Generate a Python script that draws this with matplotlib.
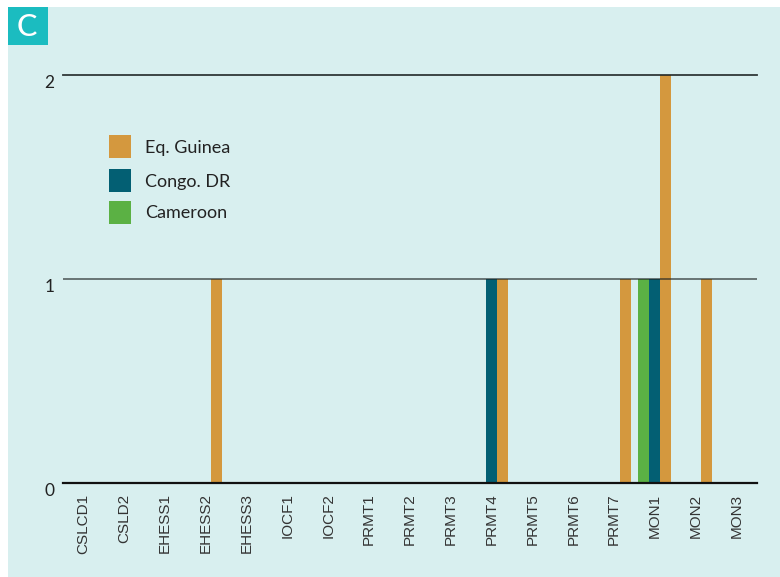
import matplotlib
matplotlib.use("Agg")
import matplotlib.pyplot as plt
from matplotlib.patches import Rectangle
import numpy as np

# Categories and counts per country
categories = ["CSLCD1", "CSLD2", "EHESS1", "EHESS2", "EHESS3", "IOCF1", "IOCF2",
              "PRMT1", "PRMT2", "PRMT3", "PRMT4", "PRMT5", "PRMT6", "PRMT7",
              "MON1", "MON2", "MON3"]
cameroon = [0, 0, 0, 0, 0, 0, 0, 0, 0, 0, 0, 0, 0, 0, 1, 0, 0]
congo_dr = [0, 0, 0, 0, 0, 0, 0, 0, 0, 0, 1, 0, 0, 0, 1, 0, 0]
eq_guinea = [0, 0, 0, 1, 0, 0, 0, 0, 0, 0, 1, 0, 0, 1, 2, 1, 0]
y_ticks = [0, 1, 2]

series = [
    ("Eq. Guinea", eq_guinea, "#D4983E", 1),
    ("Congo. DR", congo_dr, "#035F73", 0),
    ("Cameroon", cameroon, "#5BB144", -1),
]

W, H = 780, 577
bg = "#D8EFEF"
fig = plt.figure(figsize=(W / 100, H / 100), dpi=100, facecolor="white")

# panel background (white strip at top and left)
fig.patches.append(Rectangle((8 / W, 0), 1 - 8 / W, 1 - 7 / H,
                             transform=fig.transFigure, facecolor=bg,
                             edgecolor="none", zorder=-10))
# panel letter badge
fig.patches.append(Rectangle((8 / W, 1 - 45 / H), 40 / W, 38 / H,
                             transform=fig.transFigure, facecolor="#1BBCC0",
                             edgecolor="none", zorder=1))
fig.text(27 / W, 1 - 26.5 / H, "C", color="white", fontsize=22, family="Lato",
         fontweight="medium", ha="center", va="center", zorder=2)

ax = fig.add_axes([63 / W, 1 - 483 / H, (757 - 63) / W, (483 - 75) / H])
ax.set_facecolor("none")
x = np.arange(len(categories))
bw = 0.27
for name, vals, color, off in series:
    ax.bar(x + off * bw, vals, width=bw, color=color, edgecolor="none",
           zorder=2)

ax.set_xlim(-0.5, len(categories) - 0.5)
ax.set_ylim(0, 2)
for s in ax.spines.values():
    s.set_visible(False)

# horizontal reference lines drawn over the bars
ax.axhline(1, color="#1e2324", lw=1.3, alpha=0.65, zorder=3)
ax.axhline(2, color="#1e2324", lw=1.3, alpha=0.9, zorder=3, clip_on=False)
ax.axhline(0, color="#111111", lw=1.6, zorder=3, clip_on=False)

ax.set_yticks(y_ticks)
ax.set_yticklabels([str(t) for t in y_ticks], family="Lato", fontsize=12.5,
                   color="#222222", va="top")
ax.tick_params(axis="y", length=0, pad=6)

ax.set_xticks(x)
ax.set_xticklabels(categories, rotation=90, family="Liberation Sans",
                   fontsize=11, color="#333333", ha="center", va="top")
ax.tick_params(axis="x", length=0, pad=7.5)

# legend
for i, (name, vals, color, off) in enumerate(series):
    yc = [146.5, 180.5, 212.5][i]
    fig.patches.append(Rectangle((109 / W, 1 - (yc + 11.5) / H), 22 / W, 23 / H,
                                 transform=fig.transFigure, facecolor=color,
                                 edgecolor="none"))
    fig.text(145 / W, 1 - (yc + 1) / H, name, family="Lato", fontsize=13,
             color="#222222", va="center", ha="left")

fig.savefig("out.png", dpi=100, facecolor="white")
